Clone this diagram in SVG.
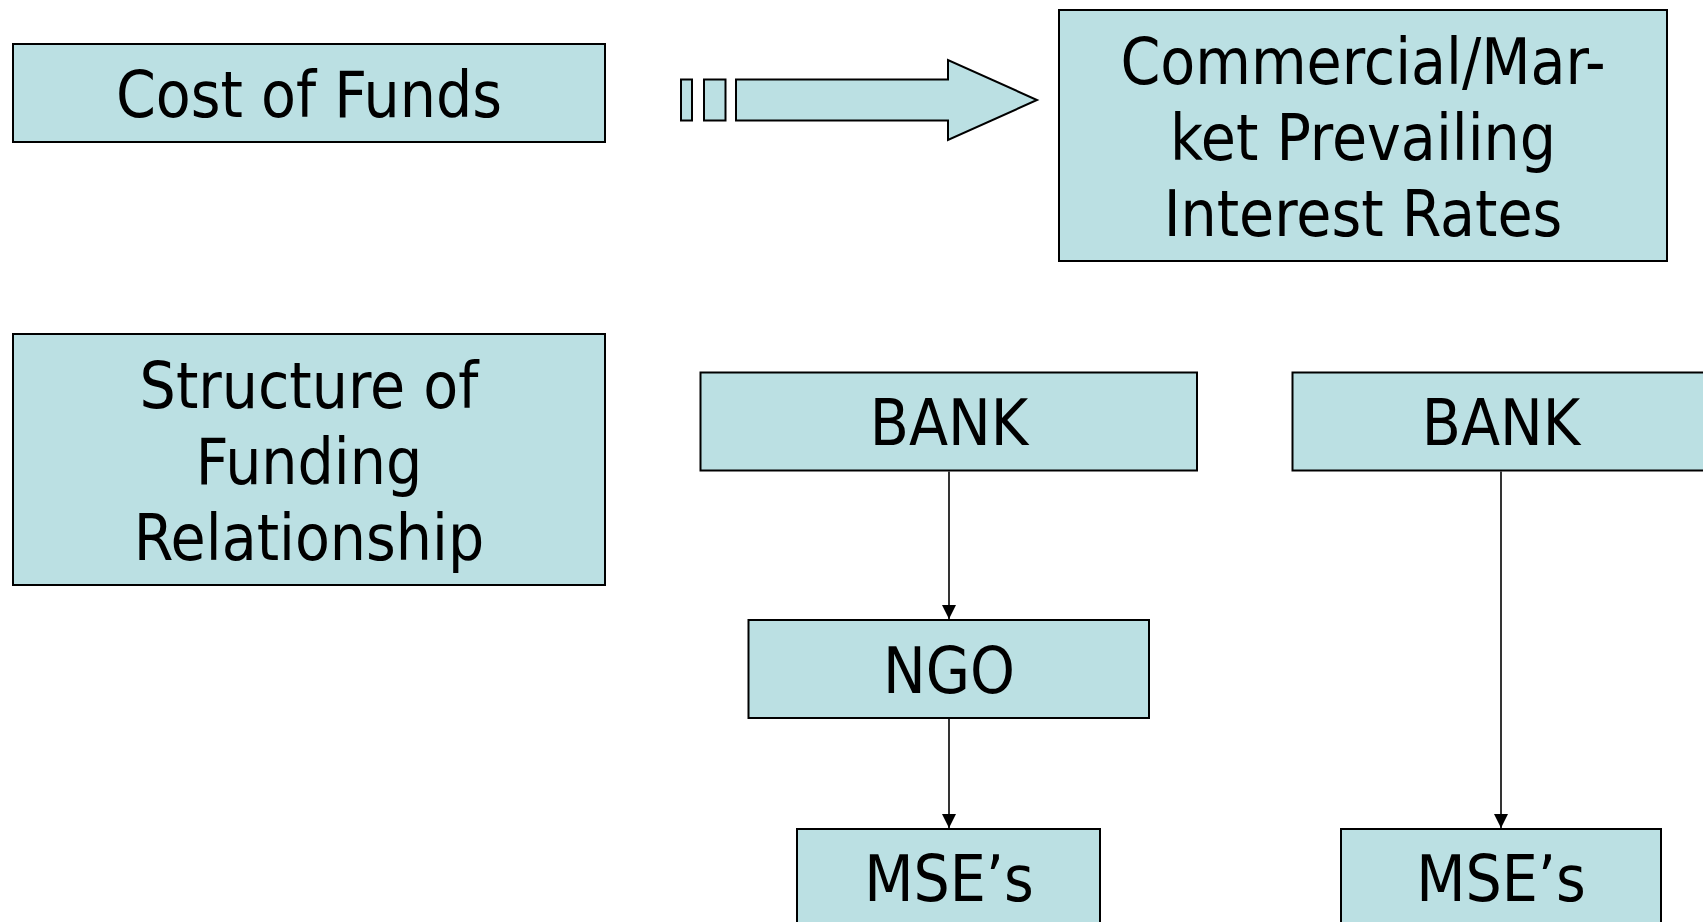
<svg xmlns="http://www.w3.org/2000/svg" width="1703" height="922" viewBox="0 0 1703 922">
  <style>
    .box { fill: #BBE0E3; stroke: #000000; stroke-width: 2; }
    .lbl { font-family: "DejaVu Sans Condensed", "DejaVu Sans", sans-serif; font-stretch: condensed; font-size: 63.5px; fill: #000000; text-anchor: middle; }
    .conn { stroke: #000000; stroke-width: 1.6; fill: none; }
  </style>
  <defs>
    <marker id="arrow" viewBox="0 0 14 14" refX="14" refY="7" markerWidth="14" markerHeight="14" markerUnits="userSpaceOnUse" orient="auto">
      <path d="M0,0 L14,7 L0,14 Z" fill="#000000"/>
    </marker>
  </defs>
  <rect width="1703" height="922" fill="#FFFFFF"/>

  <g id="cost-of-funds">
    <rect class="box" x="13" y="44" width="592" height="98"/>
    <text class="lbl" x="309" y="117">Cost of Funds</text>
  </g>

  <g id="block-arrow">
    <rect class="box" x="681" y="79.5" width="11" height="41"/>
    <rect class="box" x="704" y="79.5" width="21.5" height="41"/>
    <polygon class="box" points="736,79.5 948,79.5 948,60 1037,100 948,140 948,120.5 736,120.5"/>
  </g>

  <g id="commercial-rates">
    <rect class="box" x="1059" y="10" width="608" height="251"/>
    <text class="lbl" x="1363" y="84">Commercial/Mar-</text>
    <text class="lbl" x="1363" y="160">ket Prevailing</text>
    <text class="lbl" x="1363" y="236">Interest Rates</text>
  </g>

  <g id="structure-of-funding">
    <rect class="box" x="13" y="334" width="592" height="251"/>
    <text class="lbl" x="309" y="408">Structure of</text>
    <text class="lbl" x="309" y="484">Funding</text>
    <text class="lbl" x="309" y="560">Relationship</text>
  </g>

  <g id="bank-1">
    <rect class="box" x="700.5" y="372.5" width="496.5" height="98"/>
    <text class="lbl" x="949" y="445">BANK</text>
  </g>

  <g id="ngo">
    <rect class="box" x="748.5" y="620" width="400.5" height="98"/>
    <text class="lbl" x="949" y="693">NGO</text>
  </g>

  <g id="mse-1">
    <rect class="box" x="797" y="829" width="303" height="120"/>
    <text class="lbl" x="949" y="901">MSE’s</text>
  </g>

  <g id="bank-2">
    <rect class="box" x="1292.5" y="372.5" width="417" height="98"/>
    <text class="lbl" x="1501" y="445">BANK</text>
  </g>

  <g id="mse-2">
    <rect class="box" x="1341" y="829" width="320" height="120"/>
    <text class="lbl" x="1501" y="901">MSE’s</text>
  </g>

  <g id="connectors">
    <line class="conn" x1="949" y1="471.5" x2="949" y2="619" marker-end="url(#arrow)"/>
    <line class="conn" x1="949" y1="719" x2="949" y2="828" marker-end="url(#arrow)"/>
    <line class="conn" x1="1501" y1="471.5" x2="1501" y2="828" marker-end="url(#arrow)"/>
  </g>
</svg>
